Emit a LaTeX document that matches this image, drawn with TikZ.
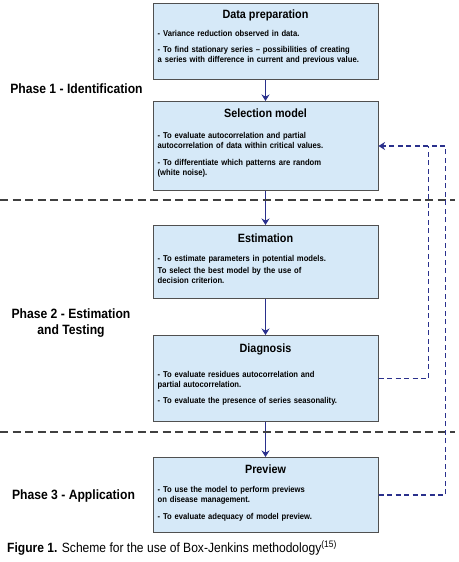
\documentclass[tikz,border=0pt]{standalone}
\usepackage{fontspec}
\setmainfont{Liberation Sans}[FakeStretch=0.9]
\usetikzlibrary{arrows.meta,positioning,calc}
\definecolor{boxblue}{RGB}{214,233,248}
\definecolor{boxline}{RGB}{80,80,80}
\definecolor{navy}{RGB}{42,48,140}
\tikzset{
  phasebox/.style={draw=boxline, line width=1pt, fill=boxblue, minimum width=225pt, anchor=north, inner sep=0pt},
  boxtitle/.style={font=\bfseries\fontsize{12}{14}\selectfont, inner sep=0pt},
  boxtext/.style={anchor=north west, text width=218pt, align=left, inner sep=0pt, font=\bfseries\fontsize{8.5}{10}\selectfont},
  flow/.style={navy, line width=1.6pt, -{Stealth[length=6.5pt,width=8pt]}},
  feedback/.style={navy, line width=1.6pt, dash pattern=on 5pt off 3.5pt},
  separator/.style={black!75, line width=1.1pt, dash pattern=on 8pt off 4.5pt},
  phaselabel/.style={font=\bfseries\fontsize{13.5}{16.5}\selectfont, align=center, inner sep=0pt}
}
\begin{document}
\begin{tikzpicture}[x=1pt,y=-1pt]
  \useasboundingbox (0,0) rectangle (458,562);
  \node[phasebox, minimum height=76pt] (prep) at (265.5,3) {};
  \node[phasebox, minimum height=89pt] (select) at (265.5,101) {};
  \node[phasebox, minimum height=73pt] (estim) at (265.5,225) {};
  \node[phasebox, minimum height=86pt] (diag) at (265.5,335) {};
  \node[phasebox, minimum height=75pt] (prev) at (265.5,457) {};

  \node[boxtitle] (prepT) at ($(prep.north)+(0,12)$) {Data preparation};
  \node[boxtext] (prepB) at ($(prep.north west)+(5,27.5)$)
    {- Variance reduction observed in data.\\[6pt]
     - To find stationary series -- possibilities of creating\\
     a series with difference in current and previous value.};
  \node[boxtitle] (selectT) at ($(select.north)+(0,12)$) {Selection model};
  \node[boxtext] (selectB) at ($(select.north west)+(5,31.5)$)
    {- To evaluate autocorrelation and partial\\
     autocorrelation of data within critical values.\\[6.5pt]
     - To differentiate which patterns are random\\
     (white noise).};
  \node[boxtitle] (estimT) at ($(estim.north)+(0,13)$) {Estimation};
  \node[boxtext] (estimB) at ($(estim.north west)+(5,30.5)$)
    {- To estimate parameters in potential models.\\[2pt]
     To select the best model by the use of\\
     decision criterion.};
  \node[boxtitle] (diagT) at ($(diag.north)+(0,14)$) {Diagnosis};
  \node[boxtext] (diagB) at ($(diag.north west)+(5,36.5)$)
    {- To evaluate residues autocorrelation and\\
     partial autocorrelation.\\[6pt]
     - To evaluate the presence of series seasonality.};
  \node[boxtitle] (prevT) at ($(prev.north)+(0,12)$) {Preview};
  \node[boxtext] (prevB) at ($(prev.north west)+(5,29.5)$)
    {- To use the model to perform previews\\
     on disease management.\\[7pt]
     - To evaluate adequacy of model preview.};

  \draw[flow] (prep) -- (select);
  \draw[flow] (select) -- (estim);
  \draw[flow] (estim) -- (diag);
  \draw[flow] (diag) -- (prev);

  \coordinate (sep1l) at (0,200);
  \coordinate (sep1r) at (455,200);
  \coordinate (sep2l) at (0,432);
  \coordinate (sep2r) at (455,432);
  \draw[separator] (sep1l) -- (sep1r);
  \draw[separator] (sep2l) -- (sep2r);

  \draw[feedback] (diag.east) -| ($(select.east)+(50,0)$);
  \draw[feedback, -{Stealth[length=6.5pt,width=8pt]}] (prev.east) -- ++(67,0) |- (select.east);

  \node[phaselabel] (ph1) at (76.5,89) {Phase 1 - Identification};
  \node[phaselabel] (ph2) at (71,323) {Phase 2 - Estimation\\and Testing};
  \node[phaselabel] (ph3) at (73.5,496) {Phase 3 - Application};

  \node[anchor=west, inner sep=0pt, font=\fontsize{13.4}{16}\selectfont] (caption) at (7,548)
    {\textbf{Figure 1.} Scheme for the use of Box-Jenkins methodology\textsuperscript{(15)}};
\end{tikzpicture}
\end{document}
